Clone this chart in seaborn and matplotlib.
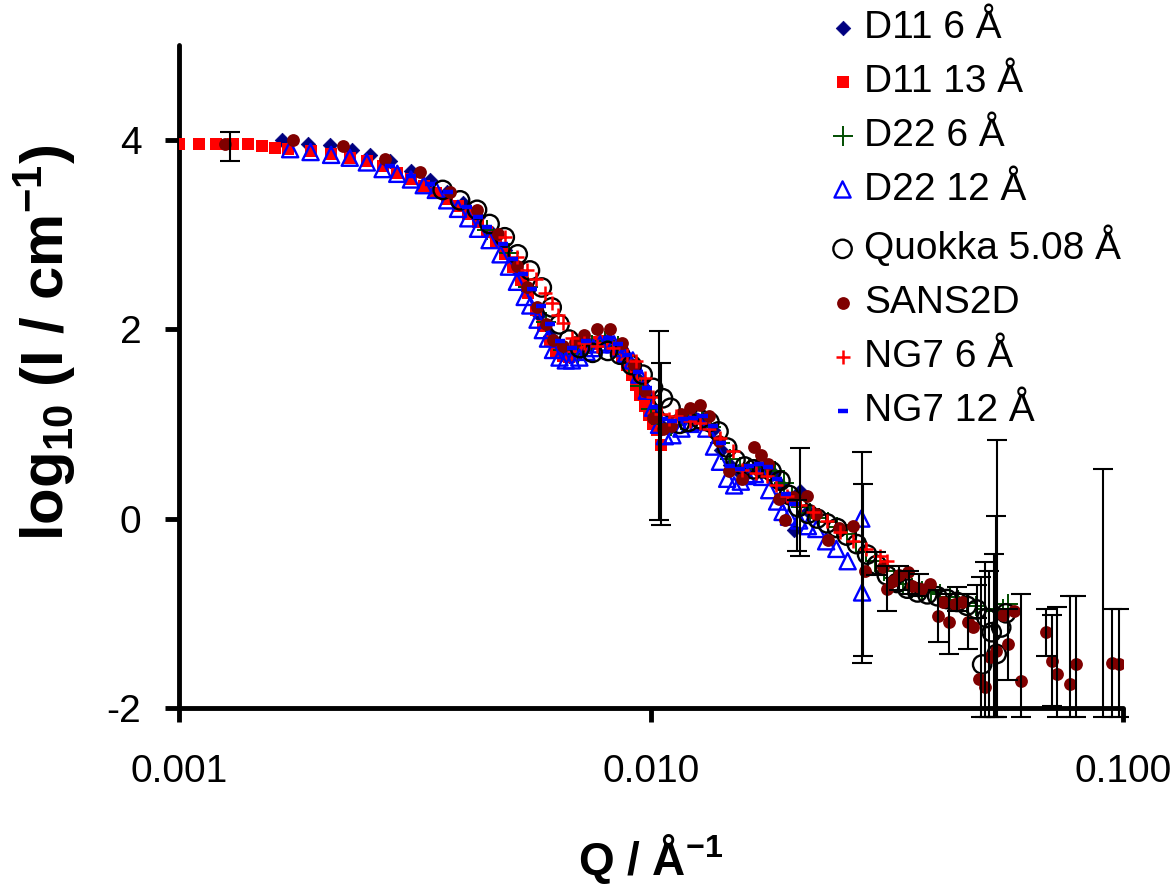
import matplotlib
matplotlib.use('Agg')
import matplotlib.pyplot as plt
import seaborn as sns
from matplotlib import font_manager
from matplotlib.ticker import NullLocator

# ---- data (Q in 1/A, log10 I) ----
q_d11_6 = [0.00165, 0.00188, 0.00209, 0.00232, 0.00254, 0.00280, 0.00310, 0.00340, 0.00370, 0.00400,
           0.00430, 0.00460, 0.00490, 0.00520, 0.00550, 0.00580, 0.00610, 0.00640, 0.00670, 0.00700,
           0.00740, 0.00780, 0.00820, 0.00860, 0.00900, 0.00940, 0.00980, 0.01020, 0.01060, 0.01110,
           0.01170, 0.01230, 0.01290, 0.01350, 0.01410, 0.01470, 0.01530, 0.01600, 0.01670, 0.01740,
           0.01810, 0.01880, 0.01950, 0.02010, 0.02070, 0.02150]
i_d11_6 = [4.00, 3.96, 3.94, 3.89, 3.84, 3.78, 3.67, 3.57, 3.45, 3.33,
           3.18, 3.02, 2.84, 2.62, 2.40, 2.15, 1.93, 1.78, 1.72, 1.74,
           1.82, 1.87, 1.87, 1.80, 1.65, 1.47, 1.28, 1.08, 0.97, 0.98,
           1.05, 1.08, 1.05, 0.93, 0.72, 0.57, 0.50, 0.50, 0.53, 0.54,
           0.48, 0.36, 0.22, -0.12, 0.29, 0.08]

q_d11_13 = [0.0010, 0.0011, 0.0012, 0.0013, 0.0014, 0.0015, 0.0016, 0.0017, 0.0019, 0.0021,
            0.0023, 0.0025, 0.0027, 0.0029, 0.0031, 0.0033, 0.0035, 0.0037, 0.0039, 0.0041,
            0.0043, 0.0045, 0.0047, 0.0049, 0.0051, 0.0053, 0.0055, 0.0057, 0.0059, 0.0061,
            0.0063, 0.0065, 0.0067, 0.0069, 0.0071, 0.0073, 0.0075, 0.0077, 0.0079, 0.0081,
            0.0083, 0.0085, 0.0087, 0.0089, 0.0091, 0.0093, 0.0095, 0.0097, 0.0099, 0.0101,
            0.0103, 0.0105]
i_d11_13 = [3.96, 3.96, 3.96, 3.95, 3.95, 3.93, 3.91, 3.90, 3.88, 3.85,
            3.81, 3.77, 3.72, 3.65, 3.58, 3.51, 3.44, 3.37, 3.30, 3.22,
            3.13, 3.03, 2.91, 2.79, 2.66, 2.52, 2.38, 2.20, 2.03, 1.88,
            1.77, 1.72, 1.71, 1.73, 1.77, 1.81, 1.84, 1.86, 1.87, 1.86,
            1.83, 1.78, 1.71, 1.62, 1.52, 1.41, 1.30, 1.19, 1.09, 1.00,
            0.93, 0.78]

q_d22_6 = [0.0045, 0.0050, 0.0055, 0.0060, 0.0065, 0.0070, 0.0075, 0.0080, 0.0085, 0.0090,
           0.0095, 0.0100, 0.0105, 0.0110, 0.0116, 0.0122, 0.0128, 0.0134, 0.0140, 0.0147,
           0.0154, 0.0161, 0.0168, 0.0175, 0.0183, 0.0191, 0.0199, 0.0208, 0.0217, 0.0227,
           0.0237, 0.0248, 0.0260, 0.0272, 0.0285, 0.0298, 0.0312, 0.0327, 0.0342, 0.0358,
           0.0375, 0.0392, 0.0410, 0.0429, 0.0448, 0.0468, 0.0489, 0.0511, 0.0534, 0.0557,
           0.0570]
i_d22_6 = [3.05, 2.80, 2.45, 2.08, 1.78, 1.74, 1.83, 1.88, 1.82, 1.64,
           1.40, 1.16, 1.00, 0.98, 1.04, 1.09, 1.07, 0.97, 0.80, 0.63,
           0.54, 0.52, 0.54, 0.55, 0.50, 0.38, 0.24, 0.12, 0.06, 0.01,
           -0.04, -0.09, -0.16, -0.25, -0.35, -0.45, -0.55, -0.63, -0.69, -0.73,
           -0.76, -0.78, -0.80, -0.83, -0.86, -0.89, -0.92, -0.95, -0.98, -0.95,
           -0.90]

q_d22_12 = [0.00172, 0.00190, 0.00210, 0.00230, 0.00250, 0.00270, 0.00290, 0.00310, 0.00330, 0.00350,
            0.00370, 0.00390, 0.00410, 0.00430, 0.00455, 0.00480, 0.00500, 0.00520, 0.00540, 0.00555,
            0.00575, 0.00590, 0.00605, 0.00620, 0.00640, 0.00660, 0.00680, 0.00705, 0.00730, 0.00755,
            0.00780, 0.00810, 0.00835, 0.00860, 0.00885, 0.00915, 0.00945, 0.00980, 0.01010, 0.01040,
            0.01070, 0.01110, 0.01160, 0.01210, 0.01260, 0.01310, 0.01360, 0.01400, 0.01450, 0.01500,
            0.01550, 0.01600, 0.01660, 0.01720, 0.01780, 0.01850, 0.01900, 0.01960, 0.02060, 0.02150,
            0.02240, 0.02350, 0.02470, 0.02610, 0.02790, 0.02800]
i_d22_12 = [3.90, 3.87, 3.84, 3.81, 3.76, 3.69, 3.64, 3.58, 3.52, 3.47,
            3.36, 3.27, 3.17, 3.06, 2.94, 2.79, 2.66, 2.50, 2.34, 2.25,
            2.10, 1.99, 1.90, 1.78, 1.70, 1.67, 1.67, 1.70, 1.76, 1.80,
            1.84, 1.86, 1.84, 1.80, 1.74, 1.67, 1.52, 1.35, 1.17, 0.99,
            0.87, 0.88, 0.95, 1.00, 1.02, 0.95, 0.76, 0.60, 0.42, 0.35,
            0.39, 0.45, 0.47, 0.44, 0.30, 0.18, 0.07, 0.02, -0.02, -0.08,
            -0.11, -0.24, -0.32, -0.45, 0.00, -0.78]

q_quokka = [0.00362, 0.00394, 0.00428, 0.00455, 0.00490, 0.00522, 0.00554, 0.00587, 0.00616, 0.00640,
            0.00670, 0.00707, 0.00752, 0.00810, 0.00860, 0.00910, 0.00960, 0.01010, 0.01060, 0.01100,
            0.01150, 0.01200, 0.01270, 0.01330, 0.01390, 0.01450, 0.01510, 0.01580, 0.01650, 0.01720,
            0.01800, 0.01880, 0.01960, 0.02050, 0.02150, 0.02250, 0.02360, 0.02480, 0.02600, 0.02730,
            0.02870, 0.03010, 0.03160, 0.03320, 0.03490, 0.03670, 0.03850, 0.04040, 0.04240, 0.04450,
            0.04670, 0.04900, 0.05030, 0.05140, 0.05270, 0.05400, 0.05520, 0.05650]
i_quokka = [3.47, 3.36, 3.26, 3.11, 2.97, 2.79, 2.62, 2.44, 2.23, 2.05,
            1.89, 1.80, 1.75, 1.77, 1.73, 1.62, 1.52, 1.38, 1.27, 1.17,
            1.00, 1.02, 1.05, 1.02, 0.92, 0.75, 0.62, 0.55, 0.52, 0.53,
            0.50, 0.40, 0.25, 0.12, 0.05, 0.00, -0.05, -0.10, -0.18, -0.27,
            -0.38, -0.49, -0.60, -0.68, -0.74, -0.78, -0.80, -0.82, -0.85, -0.88,
            -0.92, -0.96, -1.54, -1.05, -1.20, -1.43, -1.15, -1.00]

q_sans2d = [0.00125, 0.00174, 0.00223, 0.00273, 0.00324, 0.00375, 0.00428, 0.00475, 0.00519, 0.00545,
            0.00574, 0.00600, 0.00620, 0.00650, 0.00690, 0.00720, 0.00770, 0.00820, 0.00870, 0.00920,
            0.00970, 0.01010, 0.01060, 0.01100, 0.01160, 0.01210, 0.01270, 0.01330, 0.01390, 0.01460,
            0.01560, 0.01650, 0.01710, 0.01770, 0.01870, 0.01920, 0.02000, 0.02140, 0.02240, 0.02370,
            0.02500, 0.02680, 0.02840, 0.03100, 0.03170, 0.03260, 0.03350, 0.03500, 0.03580, 0.03740,
            0.03900, 0.04050, 0.04150, 0.04270, 0.04410, 0.04550, 0.04690, 0.04810, 0.04950, 0.05090,
            0.05220, 0.05380, 0.05570, 0.05710, 0.05890, 0.06090, 0.06880, 0.07080, 0.07260, 0.07740,
            0.07970, 0.09460, 0.09800]
i_sans2d = [3.95, 4.00, 3.93, 3.80, 3.66, 3.45, 3.26, 3.00, 2.67, 2.45,
            2.23, 2.05, 1.89, 1.82, 1.86, 1.94, 2.00, 2.00, 1.85, 1.62,
            1.35, 1.06, 0.95, 0.98, 1.10, 1.17, 1.20, 1.08, 0.82, 0.50,
            0.42, 0.76, 0.67, 0.58, 0.21, -0.02, 0.23, 0.24, 0.05, -0.23,
            -0.10, -0.08, -0.55, -0.51, -0.74, -0.66, -0.60, -0.56, -0.71, -0.74,
            -0.69, -1.03, -0.88, -1.09, -0.90, -0.88, -1.09, -1.15, -1.69, -1.78,
            -1.46, -1.40, -1.02, -1.32, -0.98, -1.71, -1.20, -1.50, -1.64, -1.75,
            -1.54, -1.52, -1.54]

q_ng7_6 = [0.00490, 0.00520, 0.00545, 0.00570, 0.00595, 0.00616, 0.00635, 0.00650, 0.00680, 0.00720,
           0.00770, 0.00830, 0.00890, 0.00930, 0.00970, 0.01010, 0.01050, 0.01090, 0.01130, 0.01210,
           0.01270, 0.01330, 0.01400, 0.01490, 0.01560, 0.01670, 0.01760, 0.01840, 0.01940, 0.02070,
           0.02200, 0.02360, 0.02510, 0.02680, 0.02860, 0.03050, 0.03160]
i_ng7_6 = [2.97, 2.76, 2.62, 2.53, 2.38, 2.28, 2.15, 2.07, 1.91, 1.85,
           1.82, 1.80, 1.73, 1.66, 1.48, 1.28, 1.10, 1.05, 1.08, 1.03,
           1.01, 0.95, 0.85, 0.71, 0.51, 0.48, 0.45, 0.35, 0.24, 0.14,
           0.07, -0.03, -0.14, -0.24, -0.32, -0.39, -0.45]

q_ng7_12 = [0.00280, 0.00310, 0.00340, 0.00371, 0.00407, 0.00430, 0.00450, 0.00486, 0.00510, 0.00536,
            0.00560, 0.00585, 0.00610, 0.00640, 0.00680, 0.00730, 0.00810, 0.00850, 0.00890, 0.00940,
            0.00980, 0.01020, 0.01060, 0.01110, 0.01170, 0.01230, 0.01290, 0.01350, 0.01410, 0.01470,
            0.01540, 0.01610, 0.01690, 0.01770, 0.01850, 0.01930, 0.02010]
i_ng7_12 = [3.72, 3.62, 3.53, 3.45, 3.29, 3.18, 3.08, 2.90, 2.74, 2.58,
            2.42, 2.24, 2.05, 1.88, 1.80, 1.88, 1.91, 1.84, 1.73, 1.55,
            1.38, 1.18, 1.05, 1.03, 1.05, 1.06, 1.08, 0.98, 0.80, 0.56,
            0.52, 0.55, 0.58, 0.54, 0.42, 0.26, 0.15]

# error bars: Q, lower end, upper end (log10 I)
eb_q = [0.00128, 0.0104, 0.0105, 0.0204, 0.0207, 0.0280, 0.0281, 0.0300, 0.0317, 0.0335,
        0.0352, 0.0370, 0.0405, 0.0427, 0.0445, 0.0469, 0.0490, 0.0500, 0.0510, 0.0520,
        0.0533, 0.0537, 0.0542, 0.0571, 0.0609, 0.0688, 0.0708, 0.0726, 0.0774, 0.0797,
        0.0905, 0.0946, 0.0980]
eb_lo = [3.78, -0.02, -0.07, -0.34, -0.40, -1.52, -1.45, -0.60, -0.98, -0.75,
         -0.80, -0.82, -1.30, -1.43, -0.98, -1.38, -1.05, -2.10, -2.10, -2.10,
         -2.10, -2.10, -2.10, -1.70, -2.10, -1.45, -1.98, -2.10, -2.10, -2.10,
         -2.10, -2.10, -2.10]
eb_hi = [4.08, 1.98, 1.64, 0.20, 0.74, 0.70, 0.37, -0.35, -0.50, -0.50,
         -0.55, -0.58, -0.75, -0.80, -0.72, -0.80, -0.70, -0.62, -0.46, -0.55,
         -0.37, 0.03, 0.83, -0.96, -0.80, -0.96, -1.02, -0.93, -0.82, -0.82,
         0.52, -0.96, -0.96]

labels = ['D11 6 Å', 'D11 13 Å', 'D22 6 Å', 'D22 12 Å', 'Quokka 5.08 Å', 'SANS2D', 'NG7 6 Å', 'NG7 12 Å']
q_data = [q_d11_6, q_d11_13, q_d22_6, q_d22_12, q_quokka, q_sans2d, q_ng7_6, q_ng7_12]
i_data = [i_d11_6, i_d11_13, i_d22_6, i_d22_12, i_quokka, i_sans2d, i_ng7_6, i_ng7_12]
styles = [
    dict(marker='D', s=55, color='#000080', edgecolor='#000080', linewidth=0.5),
    dict(marker='s', s=78, color='#ff0000', edgecolor='#ff0000', linewidth=0),
    dict(marker='+', s=210, color='#004d00', linewidth=1.4),
    dict(marker='^', s=135, facecolor='none', edgecolor='#0000ff', linewidth=1.7),
    dict(marker='o', s=175, facecolor='none', edgecolor='black', linewidth=1.7),
    dict(marker='o', s=85, color='#800000', edgecolor='#800000', linewidth=0),
    dict(marker='+', s=110, color='#ff0000', linewidth=1.8),
    dict(marker='_', s=45, color='#0000ff', linewidth=3.2),
]

sns.set_theme(style='ticks')
names = {f.name for f in font_manager.fontManager.ttflist}
font = 'Liberation Sans' if 'Liberation Sans' in names else 'DejaVu Sans'
plt.rcParams['font.family'] = [font, 'DejaVu Sans']
plt.rcParams['axes.unicode_minus'] = False
plt.rcParams['mathtext.fontset'] = 'custom'
plt.rcParams['mathtext.bf'] = font + ':bold'
plt.rcParams['mathtext.rm'] = font + ':bold'
plt.rcParams['mathtext.default'] = 'bf'

fig = plt.figure(figsize=(11.76, 8.84), dpi=100)
ax = fig.add_axes([179 / 1176, 1 - 708 / 884, 944 / 1176, 663 / 884])
ax.set_xscale('log')

for lab, q, li, st in zip(labels, q_data, i_data, styles):
    sns.scatterplot(x=q, y=li, ax=ax, label=lab, legend=False, zorder=3, **st)

mid = [(a + b) / 2 for a, b in zip(eb_lo, eb_hi)]
err = [[m - a for m, a in zip(mid, eb_lo)], [b - m for m, b in zip(mid, eb_hi)]]
eb = ax.errorbar(eb_q, mid, yerr=err, fmt='none', ecolor='black', elinewidth=1.5,
                 capsize=7, capthick=1.5, zorder=4)
for art in list(eb.lines[1]) + list(eb.lines[2]):
    art.set_clip_on(False)

ax.set_xlim(0.001, 0.1)
ax.set_ylim(-2, 5)
ax.set_xticks([0.001, 0.01, 0.1])
ax.set_xticklabels(['0.001', '0.010', '0.100'])
ax.xaxis.set_minor_locator(NullLocator())
ax.set_yticks([-2, 0, 2, 4])
ax.set_yticklabels(['-2', '0', '2', '4'])

for side in ['top', 'right']:
    ax.spines[side].set_visible(False)
for side in ['left', 'bottom']:
    ax.spines[side].set_linewidth(3.5)
    ax.spines[side].set_color('black')
    ax.spines[side].set_capstyle('round')
ax.set_facecolor('white')
fig.patch.set_facecolor('white')

ax.tick_params(axis='both', direction='out', length=10, width=3.5, color='black',
               labelsize=28, labelcolor='black')
ax.tick_params(axis='x', pad=23)
ax.tick_params(axis='y', pad=17)

ax.set_xlabel(r'Q / Å$^{-1}$', fontsize=33, fontweight='bold', color='black')
ax.set_ylabel(r'log$_{10}$ (I / cm$^{-1}$)', fontsize=43, fontweight='bold', color='black')
ax.xaxis.set_label_coords(0.5, -0.187)
ax.yaxis.set_label_coords(-0.107, 0.55)

handles, labs = ax.get_legend_handles_labels()
ax.legend(handles, labs, loc='upper left', bbox_to_anchor=(827 / 1176, 1 - 10 / 884),
          bbox_transform=fig.transFigure, frameon=False, fontsize=28, handlelength=0.8,
          handletextpad=0.15, labelspacing=0.46, borderpad=0, borderaxespad=0,
          scatterpoints=1, labelcolor='black')

fig.savefig('out.png', dpi=100, facecolor='white')
plt.close(fig)
